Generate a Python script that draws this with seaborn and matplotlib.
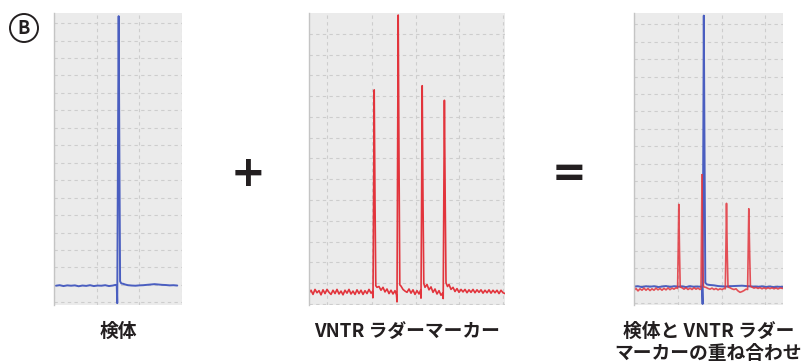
import numpy as np
import pandas as pd
import seaborn as sns
import matplotlib.pyplot as plt
from matplotlib.patches import Ellipse

# Sample trace (blue), x in scan points from panel start, y in grid units
sample_x = [0, 4, 8, 12, 16, 20, 24, 28, 32, 36, 40, 44, 48, 52, 56, 60, 63, 64.2, 64.7,
            65.4, 66.2, 67.0, 67.7, 69, 71, 73, 76, 80, 84, 88, 92, 96, 100, 104, 108,
            112, 116, 120, 124, 128]
sample_y = [0.95, 0.98, 0.93, 0.97, 0.95, 0.97, 0.92, 0.96, 0.94, 0.98, 0.93, 0.96, 0.95,
            0.98, 0.93, 0.96, 1.0, 0.95, -0.05, 8.0, 16.4, 8.0, 1.2, 1.08, 1.06, 1.02, 0.98,
            0.96, 0.95, 0.97, 0.98, 1.0, 1.02, 1.04, 1.02, 1.0, 0.99, 0.97, 0.98, 0.96]

# VNTR ladder marker trace (red)
marker_x = [0, 2, 4, 6, 8, 10, 12, 14, 16, 18, 20, 22, 24, 26, 28, 30, 32, 34, 36, 38, 40,
            42, 44, 46, 48, 50, 52, 54, 56, 58, 60, 62, 63.5, 64.0, 64.6, 65.2, 66.0, 66.8,
            68, 70, 72, 74, 76, 78, 80, 82, 84, 86, 87.5, 88.0, 88.6, 89.2, 90.0, 90.8,
            92, 94, 96, 98, 100, 102, 104, 106, 108, 110, 111.6, 112.0, 112.6, 113.2, 114.0,
            114.8, 116, 118, 120, 122, 124, 126, 128, 130, 132, 133.6, 134.2, 134.8, 135.4,
            136.2, 137.0, 138.5, 140, 142, 144, 146, 148, 150, 152, 154, 156, 158, 160, 162,
            164, 166, 168, 170, 172, 174, 176, 178, 180, 182, 184, 186, 188, 190, 192, 194, 196]
marker_y = [0.52, 0.66, 0.46, 0.70, 0.54, 0.64, 0.44, 0.68, 0.50, 0.70, 0.56, 0.46, 0.66,
            0.50, 0.70, 0.48, 0.62, 0.44, 0.66, 0.52, 0.70, 0.48, 0.62, 0.46, 0.68, 0.50,
            0.66, 0.46, 0.64, 0.50, 0.70, 0.52, 0.60, 0.30, 5.0, 10.3, 5.0, 0.88,
            0.80, 0.84, 0.66, 0.80, 0.58, 0.72, 0.50, 0.66, 0.48, 0.64, 0.44, 0.10, 7.0, 13.9,
            7.0, 0.92, 0.86, 0.70, 0.62, 0.56, 0.72, 0.52, 0.68, 0.46, 0.64, 0.48, 0.66, 0.28,
            5.0, 10.5, 5.0, 0.98, 0.80, 0.94, 0.68, 0.82, 0.56, 0.72, 0.48, 0.64, 0.42, 0.52,
            0.26, 5.0, 9.8, 5.0, 1.02, 0.84, 0.94, 0.70, 0.80, 0.60, 0.74, 0.56, 0.70, 0.58,
            0.70, 0.54, 0.68, 0.56, 0.70, 0.54, 0.68, 0.56, 0.68, 0.52, 0.66, 0.54, 0.68,
            0.52, 0.66, 0.54, 0.66, 0.50, 0.66, 0.54, 0.50]

# Overlay: sample (blue) + marker (red) on the same scale
over_blue_x = [0, 4, 8, 12, 16, 20, 24, 28, 32, 36, 40, 44, 48, 52, 56, 60, 64, 68.0, 68.6,
               69.2, 69.8, 70.6, 71.3, 73, 76, 80, 84, 88, 92, 96, 100, 104, 108, 112, 116,
               120, 124, 128, 132, 136, 140, 144, 149]
over_blue_y = [0.92, 0.95, 0.90, 0.95, 0.92, 0.95, 0.90, 0.93, 0.96, 0.91, 0.95, 0.92, 0.94,
               0.90, 0.95, 0.92, 0.93, 0.92, -0.07, 8.0, 16.5, 8.0, 1.15, 1.05, 1.02, 1.0,
               0.96, 0.94, 0.93, 0.95, 0.96, 0.97, 0.98, 0.96, 0.94, 0.93, 0.92, 0.94, 0.91,
               0.93, 0.90, 0.92, 0.91]
over_red_x = [0, 2, 4, 6, 8, 10, 12, 14, 16, 18, 20, 22, 24, 26, 28, 30, 32, 34, 36, 38, 40,
              42, 43.6, 44.2, 44.8, 45.5, 46.2, 48, 50, 52, 54, 56, 58, 60, 62, 64, 66, 67.0,
              67.5, 68.0, 68.6, 69.4, 72, 74, 76, 78, 80, 82, 84, 86, 88, 90, 91.3, 91.9,
              92.5, 93.2, 94.0, 96, 98, 100, 102, 104, 106, 108, 110, 112, 113.6, 114.2,
              114.8, 115.6, 116.4, 118, 120, 122, 124, 126, 128, 130, 132, 134, 136, 138,
              140, 142, 144, 146, 149]
over_red_y = [0.72, 0.82, 0.68, 0.80, 0.72, 0.84, 0.72, 0.82, 0.70, 0.80, 0.72, 0.84, 0.74,
              0.82, 0.72, 0.83, 0.74, 0.85, 0.75, 0.84, 0.78, 0.86, 0.82, 3.0, 5.65, 3.0,
              0.90, 0.86, 0.78, 0.86, 0.76, 0.84, 0.76, 0.86, 0.78, 0.84, 0.76, 0.80, 4.0,
              7.36, 3.0, 0.92, 0.88, 0.82, 0.78, 0.84, 0.76, 0.82, 0.74, 0.80, 0.76, 0.82,
              0.80, 3.0, 5.71, 3.0, 0.90, 0.86, 0.80, 0.76, 0.80, 0.68, 0.60, 0.64, 0.70,
              0.78, 0.76, 3.0, 5.4, 3.0, 0.95, 0.90, 0.84, 0.88, 0.82, 0.87, 0.80, 0.86,
              0.80, 0.86, 0.81, 0.86, 0.80, 0.85, 0.79, 0.85, 0.82]

labels = ["検体", "VNTR ラダーマーカー", "検体と VNTR ラダー\nマーカーの重ね合わせ"]

BLUE = "#4a5ec0"
RED = "#e2343c"

sns.set_style("white")
plt.rcParams['font.family'] = ['Noto Sans CJK JP', 'DejaVu Sans']

fig = plt.figure(figsize=(8.01, 3.62), dpi=100)

# panel boxes in pixels: left, width ; all share top 13 / bottom 305
W, H = 801, 362
boxes = [(54, 128), (309, 196), (634, 149)]
axes = []
for left, width in boxes:
    ax = fig.add_axes([left / W, (H - 305) / H, width / W, 292 / H])
    ax.set_facecolor("#ebebeb")
    for s in ["top", "right", "bottom"]:
        ax.spines[s].set_visible(False)
    ax.spines["left"].set_color("#c4c4c4")
    ax.spines["left"].set_linewidth(1.0)
    ax.tick_params(length=0, labelbottom=False, labelleft=False)
    axes.append(ax)

def grid_setup(ax, xt, yt):
    ax.set_xticks(xt)
    ax.set_yticks(yt)
    ax.grid(True, color="#cdcdcd", lw=0.8, ls=(0, (3, 3)))
    ax.set_axisbelow(True)

# panel 1: sample
ax = axes[0]
sns.lineplot(x=sample_x, y=sample_y, ax=ax, color=BLUE, lw=1.4, estimator=None, sort=False)
ax.set_xlim(0, 128)
ax.set_ylim(-0.155, 16.58)
grid_setup(ax, [-2, 43, 88, 133], np.arange(0, 17))

# panel 2: marker
ax = axes[1]
sns.lineplot(x=marker_x, y=marker_y, ax=ax, color=RED, lw=1.2, estimator=None, sort=False)
ax.set_xlim(0, 196)
ax.set_ylim(-0.05, 14.0)
grid_setup(ax, [18, 63, 107, 150, 194], np.arange(0, 14))

# panel 3: overlay
ax = axes[2]
sns.lineplot(x=over_blue_x, y=over_blue_y, ax=ax, color=BLUE, lw=1.4, estimator=None, sort=False)
sns.lineplot(x=over_red_x, y=over_red_y, ax=ax, color=RED, lw=1.2, alpha=0.85,
             estimator=None, sort=False)
ax.set_xlim(0, 149)
ax.set_ylim(-0.13, 16.65)
grid_setup(ax, [0.3, 44, 87.7, 131.4], np.arange(0, 17))

for ax in axes:
    ax.set_xlabel("")
    ax.set_ylabel("")

# captions under panels
for (left, width), lab in zip(boxes, labels):
    cx = (left + width / 2) / W
    fig.text(cx, 1 - 322 / H, lab, ha="center", va="top", fontsize=13.5,
             fontweight="bold", color="#231f20", linespacing=1.2)

# operators
fig.text(248 / W, 1 - 174 / H, "+", ha="center", va="center", fontsize=30,
         fontweight="bold", color="#231f20", family="DejaVu Sans")
fig.text(569 / W, 1 - 174 / H, "=", ha="center", va="center", fontsize=30,
         fontweight="bold", color="#231f20", family="DejaVu Sans")

# circled B
fig.add_artist(Ellipse((24 / W, 1 - 28 / H), 28 / W, 28 / H, transform=fig.transFigure,
                       fc="white", ec="#231f20", lw=1.4))
fig.text(24 / W, 1 - 28.5 / H, "B", ha="center", va="center", fontsize=13,
         fontweight="bold", color="#231f20")

fig.savefig("out.png", dpi=100)
